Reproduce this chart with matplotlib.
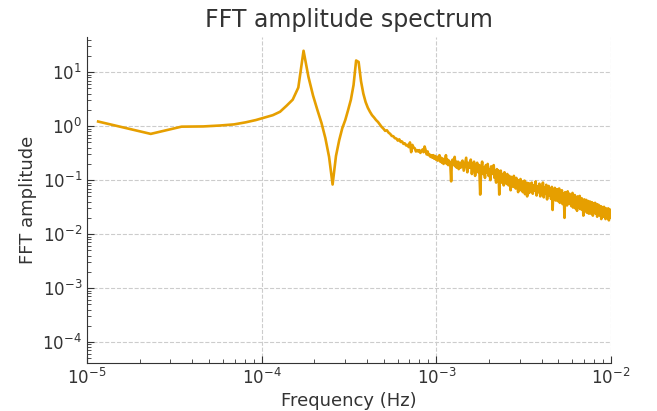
import numpy as np
import matplotlib
matplotlib.use("Agg")
import matplotlib.pyplot as plt

# frequency resolution of the spectrum (one day of samples)
df = 1.0 / 86400.0

# bins 1..41 : low frequency part with the two resonances
bins_low = np.arange(1, 42)
amp_low = [1.22, 0.72, 0.98, 0.99, 1.03, 1.08, 1.18, 1.30, 1.45, 1.60,
           1.85, 2.40, 3.10, 5.20, 25.0, 8.20, 3.70, 2.00, 1.15, 0.60,
           0.27, 0.083, 0.28, 0.55, 0.92, 1.30, 2.00, 3.10, 5.80, 16.5,
           15.5, 6.80, 4.00, 2.80, 2.20, 1.85, 1.60, 1.45, 1.30, 1.20,
           1.08]

# bins 42..120 : every bin
bins_mid = np.arange(42, 121)
amp_mid = [0.97, 0.90, 0.82, 0.84, 0.76, 0.72, 0.66, 0.65, 0.60, 0.59,
           0.54, 0.57, 0.51, 0.52, 0.47, 0.48, 0.44, 0.45, 0.41, 0.50,
           0.33, 0.45, 0.40, 0.39, 0.34, 0.36, 0.34, 0.36, 0.32, 0.35,
           0.37, 0.33, 0.42, 0.36, 0.30, 0.34, 0.29, 0.30, 0.27, 0.29,
           0.26, 0.29, 0.25, 0.28, 0.24, 0.27, 0.23, 0.27, 0.29, 0.22,
           0.26, 0.21, 0.25, 0.20, 0.24, 0.22, 0.29, 0.20, 0.24, 0.19,
           0.23, 0.20, 0.18, 0.095, 0.22, 0.24, 0.19, 0.23, 0.27, 0.18,
           0.22, 0.17, 0.21, 0.22, 0.16, 0.20, 0.21, 0.17, 0.20]

# bins 122..300 : every second bin
bins_hi = np.arange(122, 301, 2)
amp_hi = [0.23, 0.15, 0.20, 0.26, 0.14, 0.21, 0.17, 0.24, 0.13, 0.19,
          0.22, 0.12, 0.18, 0.21, 0.14, 0.19, 0.054, 0.16, 0.22, 0.13,
          0.17, 0.11, 0.19, 0.14, 0.20, 0.12, 0.16, 0.10, 0.18, 0.13,
          0.15, 0.19, 0.11, 0.14, 0.09, 0.16, 0.12, 0.15, 0.054, 0.13,
          0.15, 0.09, 0.13, 0.11, 0.08, 0.14, 0.10, 0.12, 0.085, 0.13,
          0.11, 0.08, 0.12, 0.095, 0.065, 0.115, 0.085, 0.11, 0.075, 0.12,
          0.08, 0.10, 0.07, 0.11, 0.075, 0.095, 0.06, 0.10, 0.07, 0.09,
          0.105, 0.065, 0.085, 0.095, 0.06, 0.09, 0.07, 0.098, 0.055, 0.08,
          0.07, 0.09, 0.05, 0.082, 0.065, 0.088, 0.058, 0.078, 0.062, 0.085]

# bins 304..868 : every fourth bin
bins_top = np.arange(304, 869, 4)
amp_top = [0.090, 0.056, 0.080, 0.064, 0.095, 0.052, 0.076, 0.060, 0.086, 0.050,
           0.075, 0.058, 0.090, 0.048, 0.072, 0.056, 0.082, 0.044, 0.070, 0.078,
           0.052, 0.070, 0.045, 0.075, 0.028, 0.066, 0.050, 0.072, 0.042, 0.063,
           0.068, 0.041, 0.060, 0.070, 0.038, 0.058, 0.045, 0.065, 0.036, 0.057,
           0.050, 0.020, 0.060, 0.040, 0.055, 0.034, 0.062, 0.042, 0.037, 0.056,
           0.036, 0.052, 0.033, 0.049, 0.058, 0.031, 0.047, 0.035, 0.053, 0.030,
           0.048, 0.036, 0.027, 0.050, 0.033, 0.045, 0.031, 0.051, 0.029, 0.043,
           0.033, 0.046, 0.028, 0.042, 0.022, 0.040, 0.044, 0.027, 0.039, 0.030,
           0.043, 0.025, 0.038, 0.029, 0.041, 0.024, 0.037, 0.027, 0.040, 0.024,
           0.036, 0.026, 0.039, 0.028, 0.022, 0.037, 0.025, 0.035, 0.027, 0.038,
           0.024, 0.034, 0.026, 0.036, 0.021, 0.032, 0.024, 0.035, 0.023, 0.033,
           0.030, 0.022, 0.033, 0.024, 0.019, 0.032, 0.023, 0.031, 0.021, 0.030,
           0.022, 0.032, 0.021, 0.029, 0.024, 0.019, 0.030, 0.022, 0.029, 0.020,
           0.028, 0.021, 0.030, 0.022, 0.018, 0.029, 0.023, 0.020, 0.028, 0.021,
           0.026, 0.022]

bins = np.concatenate([bins_low, bins_mid, bins_hi, bins_top])
amp = np.concatenate([amp_low, amp_mid, amp_hi, amp_top])
freq = bins * df

y_ticks = [1e-4, 1e-3, 1e-2, 1e-1, 1e0, 1e1]

txt = "#333333"
fig = plt.figure(figsize=(6.57, 4.11), dpi=100)
ax = fig.add_axes([0.1325, 0.117, 0.7975, 0.793])
ax.loglog(freq, amp, color="#E69F00", lw=1.9)
ax.set_xlim(1e-5, 1e-2)
ax.set_ylim(4.1e-5, 45)
ax.set_yticks(y_ticks)

ax.set_title("FFT amplitude spectrum", fontsize=17, color=txt, pad=7)
ax.set_xlabel("Frequency (Hz)", fontsize=13, color=txt, labelpad=3)
ax.set_ylabel("FFT amplitude", fontsize=13, color=txt)

ax.grid(True, which="major", linestyle="--", color="#cccccc", lw=0.8)
for s in ["top", "right"]:
    ax.spines[s].set_visible(False)
for s in ["left", "bottom"]:
    ax.spines[s].set_color(txt)
ax.tick_params(which="both", direction="in", colors=txt, labelsize=12)
ax.tick_params(which="major", length=5)
ax.tick_params(which="minor", length=3)

fig.savefig("out.png", dpi=100)
